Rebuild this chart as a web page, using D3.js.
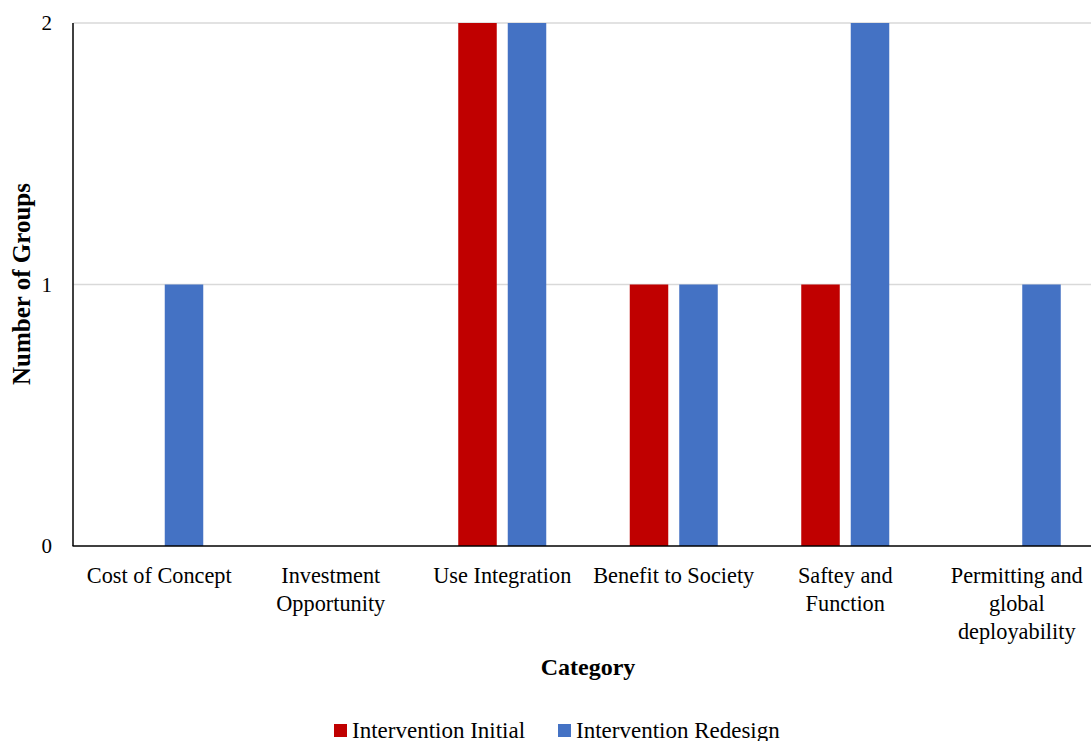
<!DOCTYPE html>
<html><head><meta charset="utf-8">
<script src="https://cdn.jsdelivr.net/npm/d3@7"></script>
<style>body{margin:0;background:#fff}svg{display:block}text{font-family:"Liberation Serif","DejaVu Serif",serif}</style>
</head><body>
<svg id="c" width="1091" height="741"></svg>
<script>
const categories = [["Cost of Concept"],["Investment","Opportunity"],["Use Integration"],["Benefit to Society"],["Saftey and","Function"],["Permitting and","global","deployability"]];
const initialValues = [0,0,2,1,1,0];
const redesignValues = [1,0,2,1,2,1];
const seriesNames = ["Intervention Initial","Intervention Redesign"];
const seriesColors = ["#C00000","#4472C4"];
const yTicks = [0,1,2];

(function(){
const svg = d3.select("#c");
const pLeft = 73.5, pRight = 1102.5, pTop = 23, pBottom = 546;
const x = d3.scaleBand().domain(d3.range(categories.length)).range([pLeft, pRight]);
const y = d3.scaleLinear().domain([0,2]).range([pBottom, pTop]);
const barW = 38.5, gap = 11;

svg.append("g").selectAll("line").data(yTicks.filter(d=>d>0)).join("line")
  .attr("x1", pLeft).attr("x2", pRight).attr("y1", d=>y(d)).attr("y2", d=>y(d))
  .attr("stroke","#d9d9d9").attr("stroke-width",1.3);

const series = [initialValues, redesignValues];
series.forEach((vals, si) => {
  svg.append("g").selectAll("rect").data(vals).join("rect")
    .attr("x", (d,i) => x(i) + x.bandwidth()/2 + (si===0 ? -gap/2 - barW : gap/2))
    .attr("width", barW)
    .attr("y", d => y(d))
    .attr("height", d => y(0) - y(d))
    .attr("fill", seriesColors[si]);
});

svg.append("line").attr("x1",pLeft-0.5).attr("x2",pLeft-0.5).attr("y1",pTop).attr("y2",pBottom).attr("stroke","#000").attr("stroke-width",1.5);
svg.append("line").attr("x1",pLeft-1).attr("x2",pRight).attr("y1",pBottom).attr("y2",pBottom).attr("stroke","#000").attr("stroke-width",1.5);

svg.append("g").selectAll("text").data(yTicks).join("text")
  .attr("x", 52).attr("y", d=>y(d)+7).attr("text-anchor","end")
  .attr("font-size",21).text(d=>d);

const xl = svg.append("g").selectAll("text").data(categories).join("text")
  .attr("x",(d,i)=>x(i)+x.bandwidth()/2).attr("y",583)
  .attr("text-anchor","middle").attr("font-size",22.3);
xl.selectAll("tspan").data(d=>d).join("tspan")
  .attr("x", function(){return this.parentNode.getAttribute("x");})
  .attr("dy",(d,i)=>i===0?0:28).text(d=>d);

svg.append("text").attr("x",588).attr("y",675).attr("text-anchor","middle")
  .attr("font-size",24).attr("font-weight","bold").text("Category");
svg.append("text").attr("transform","translate(30,284) rotate(-90)").attr("text-anchor","middle")
  .attr("font-size",25).attr("font-weight","bold").text("Number of Groups");

const lg = svg.append("g");
const legX = [334, 558];
seriesNames.forEach((n,i)=>{
  lg.append("rect").attr("x",legX[i]).attr("y",724).attr("width",13).attr("height",13).attr("fill",seriesColors[i]);
  lg.append("text").attr("x",legX[i]+18).attr("y",738).attr("font-size",23).text(n);
});
})();
</script>
</body></html>
